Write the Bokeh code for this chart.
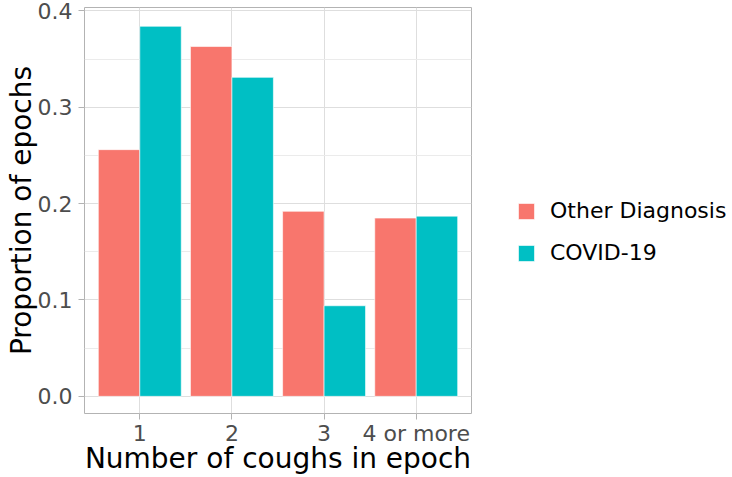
import numpy as np
from bokeh.plotting import figure
from bokeh.layouts import row
from bokeh.models import (ColumnDataSource, Range1d, FixedTicker, Legend, LegendItem)
from bokeh.transform import dodge
from bokeh.embed import file_html
from bokeh.resources import INLINE

# ---- data ----
categories = ["1", "2", "3", "4 or more"]
other_diagnosis = [0.256, 0.363, 0.192, 0.185]
covid19 = [0.384, 0.331, 0.094, 0.187]
series_names = ["Other Diagnosis", "COVID-19"]
y_ticks = [0.0, 0.1, 0.2, 0.3, 0.4]
y_minor = [0.05, 0.15, 0.25, 0.35]

RED = "#F8766D"
TEAL = "#00BFC4"
GRID = "#EBEBEB"
BORDER = "#B3B3B3"
FONT = "DejaVu Sans"

xpos = list(range(1, len(categories) + 1))
src = ColumnDataSource(dict(x=xpos, other=other_diagnosis, covid=covid19))

H = 477
p = figure(width=473, height=H, output_backend="svg", toolbar_location=None,
           x_range=Range1d(0.4, 4.6), y_range=Range1d(-0.0178, 0.4035),
           min_border_left=84, min_border_right=2, min_border_top=7,
           min_border_bottom=62)
p.background_fill_color = "white"
p.border_fill_color = "white"
p.outline_line_color = BORDER
p.outline_line_width = 1

bw = 0.45
r1 = p.vbar(x=dodge("x", -bw / 2, range=p.x_range), top="other", width=bw, source=src,
            fill_color=RED, line_color="white", line_width=0.6)
r2 = p.vbar(x=dodge("x", bw / 2, range=p.x_range), top="covid", width=bw, source=src,
            fill_color=TEAL, line_color="white", line_width=0.6)

# axes
p.xaxis.ticker = FixedTicker(ticks=xpos)
p.xaxis.major_label_overrides = {i: c for i, c in zip(xpos, categories)}
p.yaxis.ticker = FixedTicker(ticks=y_ticks, minor_ticks=y_minor)
p.yaxis.major_label_overrides = {t: f"{t:.1f}" for t in y_ticks}

for ax in (p.xaxis[0], p.yaxis[0]):
    ax.axis_line_color = None
    ax.major_tick_line_color = BORDER
    ax.major_tick_out = 6
    ax.major_tick_in = 0
    ax.minor_tick_line_color = None
    ax.major_label_text_font = FONT
    ax.major_label_text_font_size = "22px"
    ax.major_label_text_color = "#4D4D4D"
    ax.axis_label_text_font = FONT
    ax.axis_label_text_font_size = "28px"
    ax.axis_label_text_font_style = "normal"
    ax.axis_label_text_color = "black"

p.xaxis.axis_label = "Number of coughs in epoch"
p.yaxis.axis_label = "Proportion of epochs"
p.xaxis.major_label_standoff = 1
p.yaxis.major_label_standoff = 6
p.xaxis.axis_label_standoff = -7
p.yaxis.axis_label_standoff = -3

# grids
p.xgrid.ticker = FixedTicker(ticks=xpos)
p.xgrid.grid_line_color = "#DEDEDE"
p.xgrid.grid_line_width = 1
p.ygrid.ticker = FixedTicker(ticks=y_ticks, minor_ticks=y_minor)
p.ygrid.grid_line_color = "#DEDEDE"
p.ygrid.grid_line_width = 1
p.ygrid.minor_grid_line_color = GRID
p.ygrid.minor_grid_line_width = 1

# legend panel (separate figure to the right; its bars lie outside its visible range)
lg = figure(width=259, height=H, output_backend="svg", toolbar_location=None,
            min_border_left=0, min_border_right=0, min_border_top=0, min_border_bottom=0,
            x_range=Range1d(-3, -2), y_range=Range1d(0, 1))
lg.axis.visible = False
lg.grid.visible = False
lg.outline_line_color = None
lr1 = lg.vbar(x="x", top="other", width=0.1, source=src,
              fill_color=RED, line_color="white", line_width=0.6)
lr2 = lg.vbar(x="x", top="covid", width=0.1, source=src,
              fill_color=TEAL, line_color="white", line_width=0.6)

legend = Legend(items=[LegendItem(label=series_names[0], renderers=[lr1]),
                       LegendItem(label=series_names[1], renderers=[lr2])],
                location=(43, 148))
legend.border_line_color = None
legend.background_fill_alpha = 0
legend.padding = 0
legend.margin = 0
legend.glyph_width = 20
legend.glyph_height = 20
legend.label_height = 20
legend.label_standoff = 14
legend.spacing = 17
legend.label_text_font = FONT
legend.label_text_font_size = "22px"
legend.label_text_color = "black"
lg.add_layout(legend, "center")

layout = row(p, lg)
open("out.html", "w").write(file_html(layout, INLINE))
